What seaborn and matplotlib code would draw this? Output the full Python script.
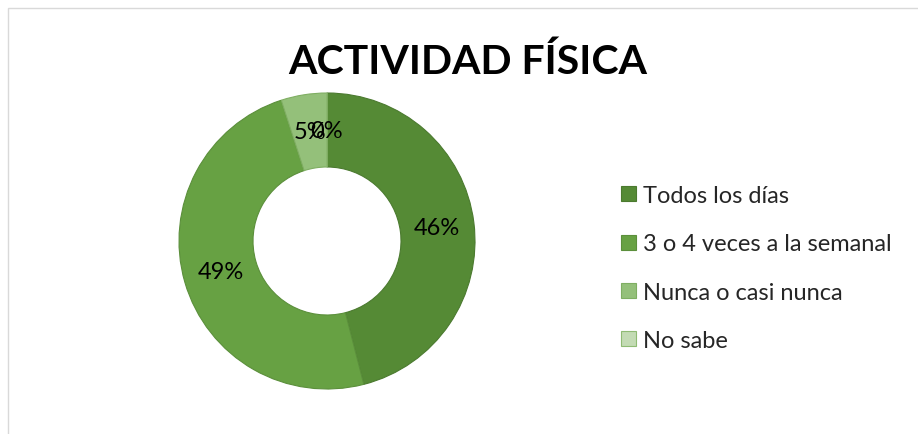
import matplotlib.pyplot as plt
import seaborn as sns
from matplotlib.patches import Patch, Rectangle

# Chart data
categorias = ['Todos los días', '3 o 4 veces a la semanal', 'Nunca o casi nunca', 'No sabe']
porcentajes = [46, 49, 5, 0]
colores = ['#558a35', '#67a143', '#94c07a', '#c3dbb4']
bordes = ['#4b7a2f', '#5b8f3b', '#7fae62', '#8fbb74']

sns.set_style('white')
plt.rcParams['font.family'] = ['Lato', 'DejaVu Sans']

fig = plt.figure(figsize=(9.18, 4.35), dpi=100)

# Thin chart-area border (top and left edges visible)
fig.patches.append(Rectangle((7.5 / 918, -0.5), 1.5, 1.5 - 8.5 / 435, transform=fig.transFigure,
                             fill=False, edgecolor='#d9d9d9', linewidth=1.0))

# Donut
cx, cy, r = 327, 435 - 242, 148
ax = fig.add_axes([(cx - r) / 918, (cy - r) / 435, 2 * r / 918, 2 * r / 435])
wedges, _, autotexts = ax.pie(porcentajes, colors=colores, startangle=90, counterclock=False,
                              autopct='%1.0f%%', pctdistance=0.75,
                              wedgeprops=dict(width=0.5, linewidth=0.8),
                              textprops=dict(fontsize=17, color='black'))
for w, b in zip(wedges, bordes):
    w.set_edgecolor(b)
ax.set_xlim(-1.0, 1.0)
ax.set_ylim(-1.0, 1.0)
ax.set_aspect('equal')
ax.axis('off')

fig.text(468 / 918, 1 - 62 / 435, 'ACTIVIDAD FÍSICA', ha='center', va='center',
         fontsize=29.5, fontweight='bold', color='black')

handles = [Patch(facecolor=c, edgecolor=b, linewidth=0.8) for c, b in zip(colores, bordes)]
fig.legend(handles, categorias, loc='center left', bbox_to_anchor=(612 / 918, 1 - 269 / 435),
           frameon=False, fontsize=17, handlelength=0.6, handleheight=0.6,
           handletextpad=0.3, labelspacing=1.15, borderaxespad=0)

plt.savefig('out.png', dpi=100)
